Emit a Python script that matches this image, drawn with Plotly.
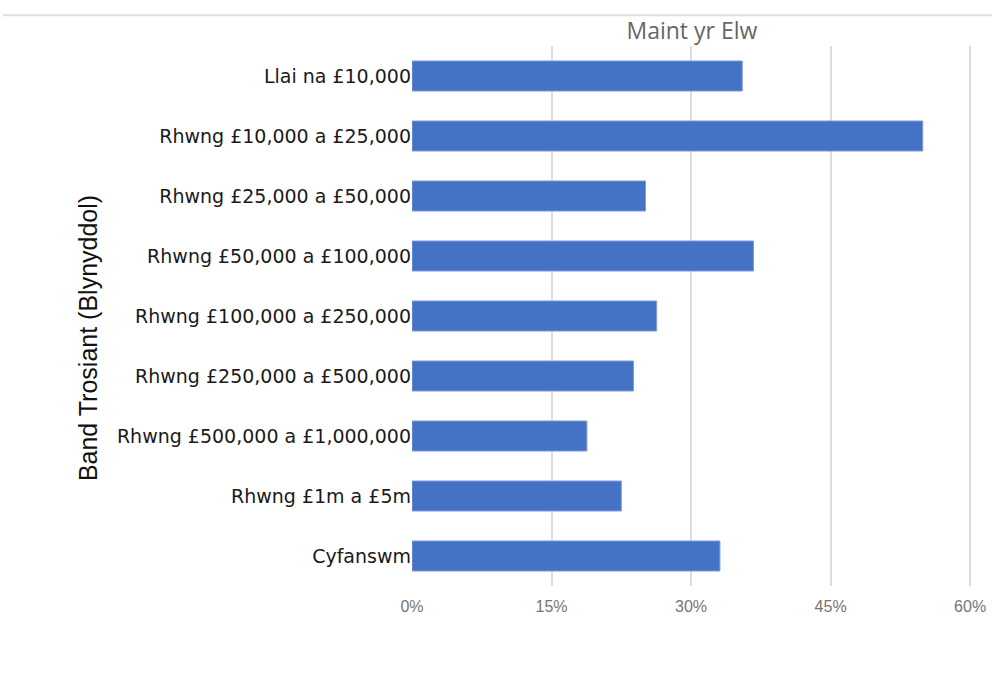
"""Bar chart: Maint yr Elw by turnover band."""

import plotly.graph_objects as go

# categories (top to bottom) and their share (%)
bands = [
    "Llai na £10,000",
    "Rhwng £10,000 a £25,000",
    "Rhwng £25,000 a £50,000",
    "Rhwng £50,000 a £100,000",
    "Rhwng £100,000 a £250,000",
    "Rhwng £250,000 a £500,000",
    "Rhwng £500,000 a £1,000,000",
    "Rhwng £1m a £5m",
    "Cyfanswm",
]
margin_pct = [35.5, 54.9, 25.1, 36.7, 26.3, 23.8, 18.8, 22.5, 33.1]

tick_vals = [0, 15, 30, 45, 60]
tick_text = ["0%", "15%", "30%", "45%", "60%"]

fig = go.Figure()
fig.add_trace(
    go.Bar(
        y=bands,
        x=margin_pct,
        orientation="h",
        width=0.5,
        marker=dict(color="#4472C4", line=dict(color="#7d9ad6", width=1)),
        hoverinfo="x+y",
    )
)

fig.update_layout(
    width=992,
    height=673,
    margin=dict(l=412, r=20, t=46, b=87),
    paper_bgcolor="white",
    plot_bgcolor="white",
    showlegend=False,
    title=dict(
        text="Maint yr Elw",
        x=0.6975,
        xanchor="center",
        y=1 - 31 / 673,
        yanchor="middle",
        font=dict(family="Open Sans, sans-serif", size=23, color="#666666"),
    ),
    xaxis=dict(
        range=[0, 60.2],
        tickvals=tick_vals,
        ticktext=tick_text,
        showgrid=True,
        gridcolor="#dddddd",
        gridwidth=1.5,
        zeroline=True,
        zerolinecolor="rgba(0,0,0,0)",
        showline=False,
        ticks="outside",
        ticklen=6,
        tickcolor="rgba(0,0,0,0)",
        tickfont=dict(family="Liberation Sans, Arial, sans-serif", size=16, color="#757575"),
        automargin=False,
        fixedrange=True,
    ),
    yaxis=dict(
        categoryorder="array",
        categoryarray=bands[::-1],
        showgrid=False,
        showline=False,
        zeroline=False,
        ticks="",
        tickfont=dict(family="DejaVu Sans, sans-serif", size=19, color="#1a1a1a"),
        automargin=False,
        fixedrange=True,
    ),
    annotations=[
        dict(
            text="Band Trosiant (Blynyddol)",
            xref="paper",
            yref="paper",
            x=-0.5786,
            y=0.459,
            xanchor="center",
            yanchor="middle",
            textangle=-90,
            showarrow=False,
            font=dict(family="Liberation Sans, Arial, sans-serif", size=25, color="#111111"),
        )
    ],
    shapes=[
        dict(
            type="line",
            xref="paper",
            yref="paper",
            x0=-0.73,
            x1=1.04,
            y0=1.057,
            y1=1.057,
            line=dict(color="#dddddd", width=2),
        )
    ],
)

# the page body has an 8px margin by default; drop it so the figure sits at 0,0
fig.write_html(
    "out.html",
    config={"displayModeBar": False},
    post_script="document.body.style.margin = '0';",
)
